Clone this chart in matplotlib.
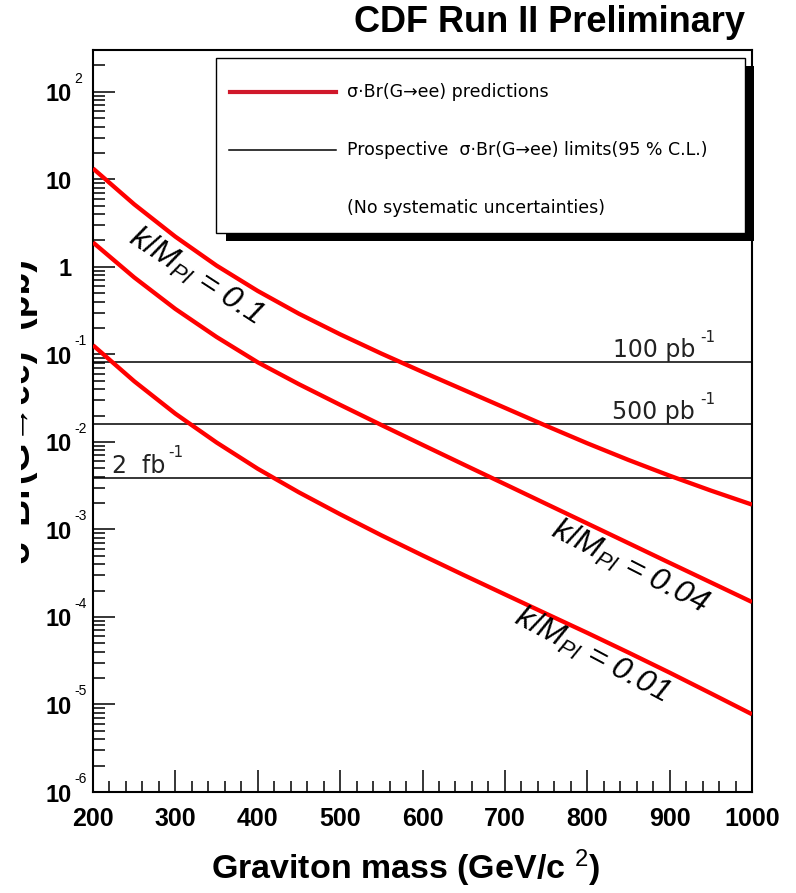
import matplotlib
matplotlib.use("Agg")
import matplotlib.pyplot as plt
from matplotlib.ticker import FixedLocator, MultipleLocator, LogLocator, NullFormatter
from matplotlib.patches import Rectangle
from matplotlib.lines import Line2D
from matplotlib.transforms import offset_copy, Bbox, TransformedBbox

# ---- data -------------------------------------------------------------
mass = [200, 250, 300, 350, 400, 450, 500, 550, 600, 650,
        700, 750, 800, 850, 900, 950, 1000]            # GeV/c^2

# sigma * Br(G -> ee) predictions [pb]
xsec_k010 = [13.3, 5.18, 2.21, 1.033, 0.530, 0.291, 0.1694, 0.1021, 0.0630,
             0.0393, 0.0245, 0.01528, 0.00964, 0.00622, 0.00411, 0.00278, 0.00192]
xsec_k004 = [1.90, 0.757, 0.330, 0.158, 0.0811, 0.0456, 0.0265, 0.0156, 0.00925,
             0.00551, 0.00329, 0.00196, 0.00117, 6.97e-4, 4.15e-4, 2.48e-4, 1.48e-4]
xsec_k001 = [0.127, 0.0493, 0.0210, 0.00984, 0.00493, 0.00265, 0.00149, 8.57e-4,
             5.05e-4, 3.01e-4, 1.81e-4, 1.09e-4, 6.58e-5, 3.92e-5, 2.31e-5,
             1.34e-5, 7.73e-6]
coupling_labels = ["0.1", "0.04", "0.01"]

# prospective 95% C.L. limits [pb]
lumi_labels = ["100 pb", "500 pb", "2  fb"]
limit_values = [0.081, 0.0159, 0.0039]

xticks = [200, 300, 400, 500, 600, 700, 800, 900, 1000]
ydecades = [-6, -5, -4, -3, -2, -1, 0, 1, 2]

# ---- style ------------------------------------------------------------
plt.rcParams["font.family"] = ["Liberation Sans", "DejaVu Sans"]
plt.rcParams["mathtext.fontset"] = "custom"
plt.rcParams["mathtext.rm"] = "Liberation Sans"
plt.rcParams["mathtext.it"] = "Liberation Sans:italic"
plt.rcParams["mathtext.bf"] = "Liberation Sans:bold"

W, H = 796, 893
fig = plt.figure(figsize=(W / 100, H / 100), dpi=100)
fig.patch.set_facecolor("white")

def fx(px):
    return px / W

def fy(py):
    return 1 - py / H

ax = fig.add_axes([fx(93), fy(792), (752 - 93) / W, (792 - 50) / H])
ax.set_yscale("log")
ax.set_xlim(200, 1000)
ax.set_ylim(1e-6, 300)
for s in ax.spines.values():
    s.set_linewidth(1.5)

# ticks: inside, only on left and bottom
ax.xaxis.set_major_locator(FixedLocator(xticks))
ax.xaxis.set_minor_locator(MultipleLocator(20))
ax.yaxis.set_major_locator(LogLocator(base=10, numticks=20))
ax.yaxis.set_minor_locator(LogLocator(base=10, subs=range(2, 10), numticks=20))
ax.yaxis.set_minor_formatter(NullFormatter())
ax.tick_params(axis="both", which="both", direction="in", top=False, right=False,
               width=1.1, color="black")
ax.tick_params(axis="y", which="major", length=15.5, labelleft=False)
ax.tick_params(axis="y", which="minor", length=8.5)
ax.tick_params(axis="x", which="major", length=16, pad=11)
ax.tick_params(axis="x", which="minor", length=8)
ax.set_xticklabels([str(v) for v in xticks], fontsize=18, fontweight="bold")

# y tick labels in "10 with raised exponent" style
ytrans = ax.get_yaxis_transform()
for e in ydecades:
    v = 10.0 ** e
    base = "1" if e == 0 else "10"
    t_main = offset_copy(ytrans, fig=fig, x=-21, y=-3, units="dots")
    ax.text(0, v, base, transform=t_main, ha="right", va="center",
            fontsize=17, fontweight="bold", clip_on=False)
    if e not in (0, 1):
        t_exp = offset_copy(ytrans, fig=fig, x=-19, y=13, units="dots")
        ax.text(0, v, str(e), transform=t_exp, ha="left", va="center",
                fontsize=10, clip_on=False)

# ---- curves -----------------------------------------------------------
red = "#ff0000"
for ys in (xsec_k010, xsec_k004, xsec_k001):
    ax.plot(mass, ys, color=red, lw=3.1, solid_capstyle="butt",
            solid_joinstyle="round", zorder=3)

for v in limit_values:
    ax.axhline(v, color="black", lw=1.1, zorder=2)

# luminosity labels on the limit lines
lum_pos = [(931, "right", 937), (931, "right", 937), (223, "left", 291)]
for (lbl, v, (xm, ha, xe)) in zip(lumi_labels, limit_values, lum_pos):
    t_txt = offset_copy(ax.transData, fig=fig, x=0, y=5, units="dots")
    ax.text(xm, v, lbl, transform=t_txt, ha=ha, va="baseline",
            fontsize=17, family=["DejaVu Sans"], color="#222222", zorder=4)
    t_sup = offset_copy(ax.transData, fig=fig, x=0, y=25, units="dots")
    ax.text(xe, v, "-1", transform=t_sup, ha="left", va="center",
            fontsize=11, family=["DejaVu Sans"], color="#222222", zorder=4)

# coupling labels along the curves
label_pos = [(325, 0.78, -33), (852, 3.7e-4, -27), (806, 3.7e-5, -28)]
for txt, (xm, ym, rot) in zip(coupling_labels, label_pos):
    ax.text(xm, ym, r"$k/M_{Pl}$ = " + txt, rotation=rot, rotation_mode="anchor",
            ha="center", va="center", fontsize=23, fontstyle="italic", zorder=4)

# ---- legend box with drop shadow --------------------------------------
fig.add_artist(Rectangle((fx(226), fy(241)), (754 - 226) / W, (241 - 66) / H,
                         transform=fig.transFigure, facecolor="black",
                         edgecolor="none", zorder=5))
fig.add_artist(Rectangle((fx(216), fy(233)), (745 - 216) / W, (233 - 58) / H,
                         transform=fig.transFigure, facecolor="white",
                         edgecolor="black", lw=1.0, zorder=6))
fig.add_artist(Line2D([fx(230), fx(336)], [fy(92), fy(92)], color="#d0182a",
                      lw=3.0, transform=fig.transFigure, zorder=7))
fig.add_artist(Line2D([fx(229), fx(336)], [fy(150), fy(150)], color="black",
                      lw=1.1, transform=fig.transFigure, zorder=7))
leg_kw = dict(fontsize=12.5, family=["DejaVu Sans"], va="center", ha="left", zorder=7)
fig.text(fx(347), fy(92), "σ·Br(G→ee) predictions", **leg_kw)
fig.text(fx(347), fy(150), "Prospective  σ·Br(G→ee) limits(95 % C.L.)", **leg_kw)
fig.text(fx(347), fy(208), "(No systematic uncertainties)", **leg_kw)

# ---- titles -----------------------------------------------------------
fig.text(fx(745), fy(22), "CDF Run II Preliminary", ha="right", va="center",
         fontsize=26, fontweight="bold")
fig.text(fx(405), fy(868), r"Graviton mass (GeV/c $^{\mathrm{2}}$)", ha="center",
         va="center", fontsize=24.5, fontweight="bold")

# the y-axis title runs off the left edge of the canvas
ylab = fig.text(fx(38), fy(412), "σ·Br(G→ee)  (pb)", rotation=90, ha="right",
                va="center", fontsize=27, fontweight="bold")
ylab.set_clip_box(TransformedBbox(Bbox([[fx(21), 0], [1, 1]]), fig.transFigure))
ylab.set_clip_on(True)

fig.savefig("out.png", dpi=100, facecolor="white")
